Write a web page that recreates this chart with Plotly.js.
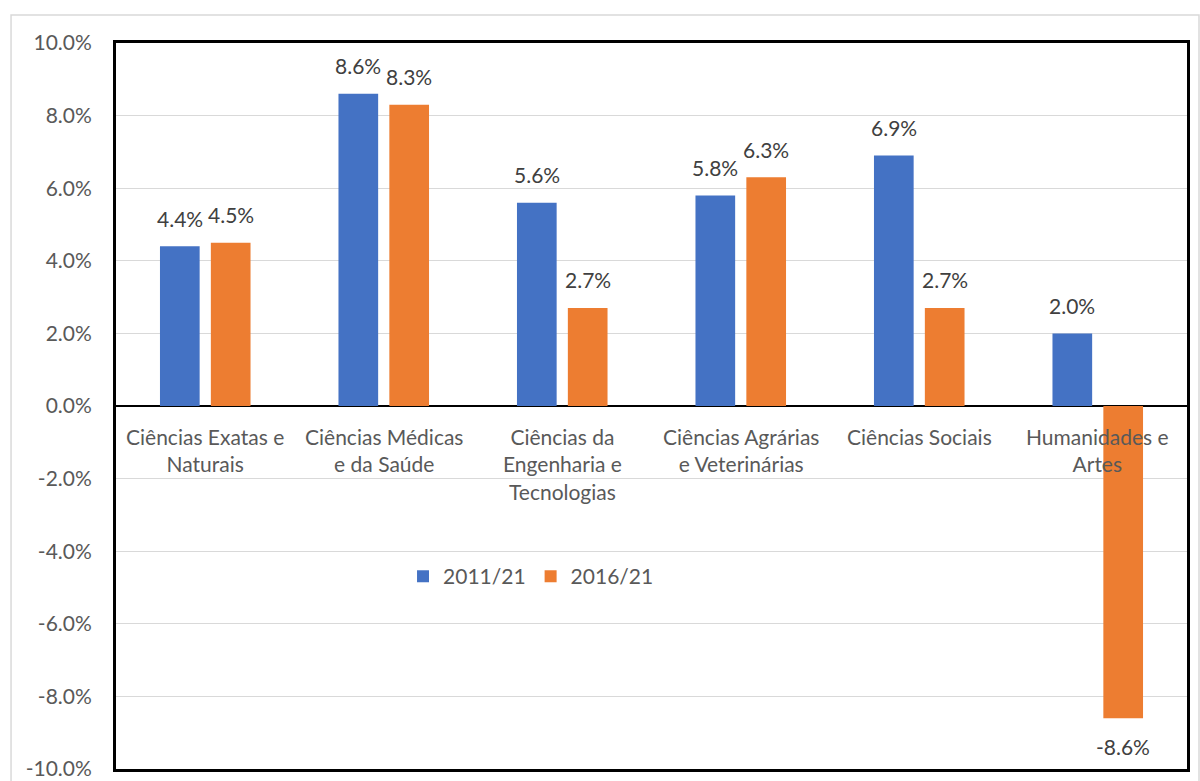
<!DOCTYPE html>
<html>
<head>
<meta charset="utf-8">
<script src="https://cdn.plot.ly/plotly-3.0.1.min.js"></script>
<style>html,body{margin:0;padding:0;background:#fff;}#chart{width:1200px;height:781px;}</style>
</head>
<body>
<div id="chart"></div>
<script>
var categories = ["Ciências Exatas e<br>Naturais", "Ciências Médicas<br>e da Saúde", "Ciências da<br>Engenharia e<br>Tecnologias", "Ciências Agrárias<br>e Veterinárias", "Ciências Sociais", "Humanidades e<br>Artes"];
var series2011 = [0.044, 0.086, 0.056, 0.058, 0.069, 0.020];
var series2016 = [0.045, 0.083, 0.027, 0.063, 0.027, -0.086];
var seriesNames = ["2011/21", "2016/21"];
var yTicks = [-0.10, -0.08, -0.06, -0.04, -0.02, 0, 0.02, 0.04, 0.06, 0.08, 0.10];

var FONT = "Lato, 'Open Sans', sans-serif";
var idx = categories.map(function(_, i){ return i; });
function fmt(v){ return (v*100).toFixed(1) + "%"; }

var traces = [
  {type:"bar", name:seriesNames[0], x:idx, y:series2011, marker:{color:"#4472C4"}},
  {type:"bar", name:seriesNames[1], x:idx, y:series2016, marker:{color:"#ED7D31"}}
];

var annotations = categories.map(function(c, i){
  return {x:i, y:0, xref:"x", yref:"y", text:c, showarrow:false, yanchor:"top", yshift:-16,
    font:{family:FONT, size:21, color:"#595959"}, align:"center"};
});
// data labels
var slotShift = 25.5;
[series2011, series2016].forEach(function(s, k){
  s.forEach(function(v, i){
    annotations.push({x:i, y:v, xref:"x", yref:"y", text:fmt(v), showarrow:false,
      xshift:(k === 0 ? -slotShift : slotShift), yshift:(v >= 0 ? 28 : -28),
      yanchor:"middle", font:{family:FONT, size:21, color:"#404040"}});
  });
});

var layout = {
  width:1200, height:781,
  margin:{l:116, r:13, t:43, b:12},
  paper_bgcolor:"#fff", plot_bgcolor:"#fff",
  barmode:"group", bargap:0.43, bargroupgap:0.22,
  showlegend:true,
  legend:{orientation:"h", x:0.268, y:0.265, xanchor:"left", yanchor:"middle",
    font:{family:FONT, size:21, color:"#595959"}, traceorder:"normal"},
  xaxis:{range:[-0.5, 5.5], showticklabels:false, ticks:"", showgrid:false, zeroline:false,
    showline:true, mirror:true, linecolor:"#000", linewidth:3},
  yaxis:{range:[-0.1, 0.1], tickvals:yTicks, ticktext:yTicks.map(fmt),
    tickfont:{family:FONT, size:21, color:"#595959"}, ticklabelstandoff:17,
    showgrid:true, gridcolor:"#d9d9d9", gridwidth:1,
    zeroline:true, zerolinecolor:"#000", zerolinewidth:2.5,
    showline:true, mirror:true, linecolor:"#000", linewidth:3},
  annotations:annotations,
  shapes:[{type:"rect", xref:"paper", yref:"paper", x0:-0.098, x1:1.0112, y0:-0.05, y1:1.0386,
    line:{color:"#d9d9d9", width:1.5}, layer:"below"}],
  font:{family:FONT}
};

Plotly.newPlot("chart", traces, layout, {displayModeBar:false, staticPlot:true});
</script>
</body>
</html>
